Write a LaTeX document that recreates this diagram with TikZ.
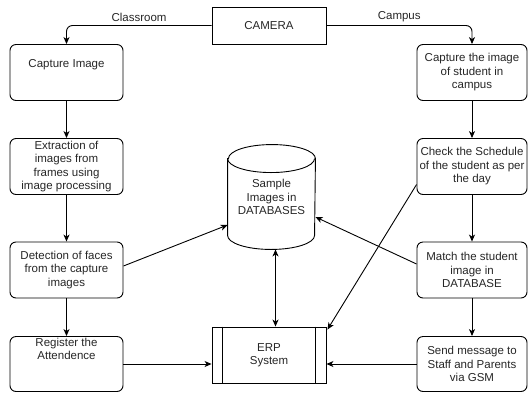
\documentclass[tikz,border=0pt]{standalone}
\usepackage{fontspec}
\setmainfont{Liberation Sans}
\usetikzlibrary{calc}
\usetikzlibrary{arrows.meta}

\begin{document}
\begin{tikzpicture}[x=1pt, y=1pt, line width=0.9pt,
    every node/.style={font=\fontsize{11.5}{13.5}\selectfont, text=black!85},
    step box/.style={draw, rounded corners=6pt, align=center, inner sep=2pt},
    left box/.style={step box, minimum width=113pt, minimum height=56pt},
    right box/.style={step box, minimum width=110pt, minimum height=56pt},
    flow/.style={-{Stealth[length=7pt, width=6pt, inset=2pt]}},
    both flow/.style={{Stealth[length=7pt, width=6pt, inset=2pt]}-{Stealth[length=7pt, width=6pt, inset=2pt]}}]
    \useasboundingbox (0,0) rectangle (528,-392);

    % 1. 顶部摄像头
    \node[draw, minimum width=114pt, minimum height=37pt] (cam) at (269,-25.5) {CAMERA};

    % 2. 左列：教室流程
    \node[left box, text height=8pt, text depth=19pt] (cap) at (66.5,-72.5) {Capture Image};
    \node[left box] (ext) at (66.5,-166.5) {Extraction of\\images from\\frames using\\image processing};
    \node[left box] (det) at (66.5,-270) {Detection of faces\\from the capture\\images};
    \node[left box, minimum height=55pt, text height=8pt, text depth=17pt] (reg) at (66.5,-364) {Register the\\Attendence};

    % 3. 右列：校园流程
    \node[right box] (capc) at (472,-72.5) {Capture the image\\of student in\\campus};
    \node[right box] (chk) at (472,-166.5) {Check the Schedule\\of the student as per\\the day};
    \node[right box] (mat) at (472,-270) {Match the student\\image in\\DATABASE};
    \node[right box, minimum height=55pt] (send) at (472,-364) {Send message to\\Staff and Parents\\via GSM};

    % 4. 中间的数据库 (圆柱) 和 ERP
    \node[minimum width=87pt, minimum height=104pt, align=center] (db) at (271.5,-197)
        {Sample\\Images in\\DATABASES};
    \draw ([yshift=-14pt]db.north west) -- ([yshift=14pt]db.south west)
        arc[start angle=180, end angle=360, x radius=43.5pt, y radius=14pt]
        -- ([yshift=-14pt]db.north east)
        arc[start angle=0, end angle=180, x radius=43.5pt, y radius=14pt] -- cycle;
    \draw ([yshift=-14pt]db.north west)
        arc[start angle=180, end angle=360, x radius=43.5pt, y radius=14pt];

    \node[draw, minimum width=114pt, minimum height=56pt, align=center] (erp) at (269,-355) {ERP\\System};
    \draw ([xshift=11pt]erp.north west) -- ([xshift=11pt]erp.south west);
    \draw ([xshift=-11pt]erp.north east) -- ([xshift=-11pt]erp.south east);

    % 5. 摄像头分支
    \draw[flow, rounded corners=6pt] (cam.west) -| node[pos=0.25, above] {Classroom} (cap.north);
    \draw[flow, rounded corners=6pt] (cam.east) -| node[pos=0.25, above] {Campus} (capc.north);

    % 6. 两列的竖直箭头
    \draw[flow] (cap) -- (ext);
    \draw[flow] (ext) -- (det);
    \draw[flow] (det) -- (reg);
    \draw[flow] (capc) -- (chk);
    \draw[flow] (chk) -- (mat);
    \draw[flow] (mat) -- (send);

    % 7. 连到数据库和 ERP 的箭头
    \draw[flow] ([yshift=4pt]det.east) -- ([yshift=-28pt]db.west);
    \draw[flow] ([yshift=6pt]mat.west) -- ([yshift=-20pt]db.east);
    \draw[flow] ([yshift=-18pt]chk.west) -- ([xshift=1pt, yshift=-3pt]erp.north east);
    \draw[both flow] ([xshift=4pt]db.south) -- ([xshift=4pt]db.south |- erp.north);
    \draw[flow] (reg.east) -- (reg.east -| erp.west);
    \draw[flow] (send.west) -- (send.west -| erp.east);

\end{tikzpicture}
\end{document}
